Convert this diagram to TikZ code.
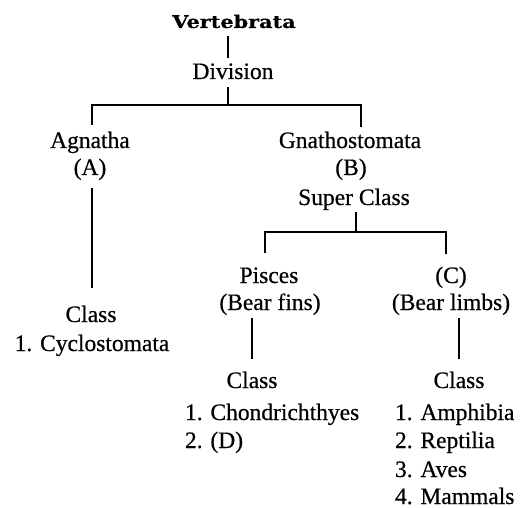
\documentclass[tikz,border=0pt]{standalone}
\usepackage{fontspec}
\usepackage{graphicx}
\setmainfont{Liberation Serif}[FakeBold=0.5]
\newfontfamily\titlefont{DejaVu Serif}[FakeBold=0.3]
\begin{document}
\begin{tikzpicture}[x=1pt,y=-1pt,
  lbl/.style={inner sep=0pt,outer sep=0pt,font=\fontsize{23.5}{26}\selectfont,anchor=base},
  lst/.style={lbl,anchor=base west},
  conn/.style={line width=1.3pt}]
\useasboundingbox (0,0) rectangle (530,508);
% texts
\node[lbl,font=\fontsize{17.5}{20}\titlefont\bfseries] (vert) at (234,28) {\scalebox{1.19}[1]{Vertebrata}};
\node[lbl] (div) at (233,79) {Division};
\node[lbl] (agn) at (90,148) {Agnatha};
\node[lbl] (A) at (90,175) {(A)};
\node[lbl] (gna) at (350,148) {Gnathostomata};
\node[lbl] (B) at (351,175) {(B)};
\node[lbl] (sup) at (354,205) {Super Class};
\node[lbl] (pis) at (269,283) {Pisces};
\node[lbl] (fins) at (270,310) {(Bear fins)};
\node[lbl] (C) at (451,283) {(C)};
\node[lbl] (limbs) at (451,310) {(Bear limbs)};
\node[lbl] (cls1) at (91,322) {Class};
\node[lbl] (cyc) at (92,351) {1. Cyclostomata};
\node[lbl] (cls2) at (252,388) {Class};
\node[lst] (cho) at (185,420) {1. Chondrichthyes};
\node[lst] (D) at (185,448) {2. (D)};
\node[lbl] (cls3) at (459,388) {Class};
\node[lst] (amp) at (395,420) {1. Amphibia};
\node[lst] (rep) at (395,448) {2. Reptilia};
\node[lst] (ave) at (395,477) {3. Aves};
\node[lst] (mam) at (395,504) {4. Mammals};
% connector points
\coordinate (v1) at (228,36);
\coordinate (v2) at (228,58);
\coordinate (d1) at (228,87);
\coordinate (d2) at (228,105);
\coordinate (bl) at (92,105);
\coordinate (br) at (361,105);
\coordinate (blE) at (92,125);
\coordinate (brE) at (361,127);
\coordinate (a1) at (92,188);
\coordinate (a2) at (92,288);
\coordinate (s1) at (356,212);
\coordinate (s2) at (356,232);
\coordinate (pl) at (265,232);
\coordinate (pr) at (446,232);
\coordinate (plE) at (265,253);
\coordinate (prE) at (446,254);
\coordinate (f1) at (252,318);
\coordinate (f2) at (252,359);
\coordinate (l1) at (459,318);
\coordinate (l2) at (459,359);
\draw[conn] (v1) -- (v2);
\draw[conn] (d1) -- (d2);
\draw[conn] (blE) -- (bl) -- (br) -- (brE);
\draw[conn] (a1) -- (a2);
\draw[conn] (s1) -- (s2);
\draw[conn] (plE) -- (pl) -- (pr) -- (prE);
\draw[conn] (f1) -- (f2);
\draw[conn] (l1) -- (l2);
\end{tikzpicture}
\end{document}
